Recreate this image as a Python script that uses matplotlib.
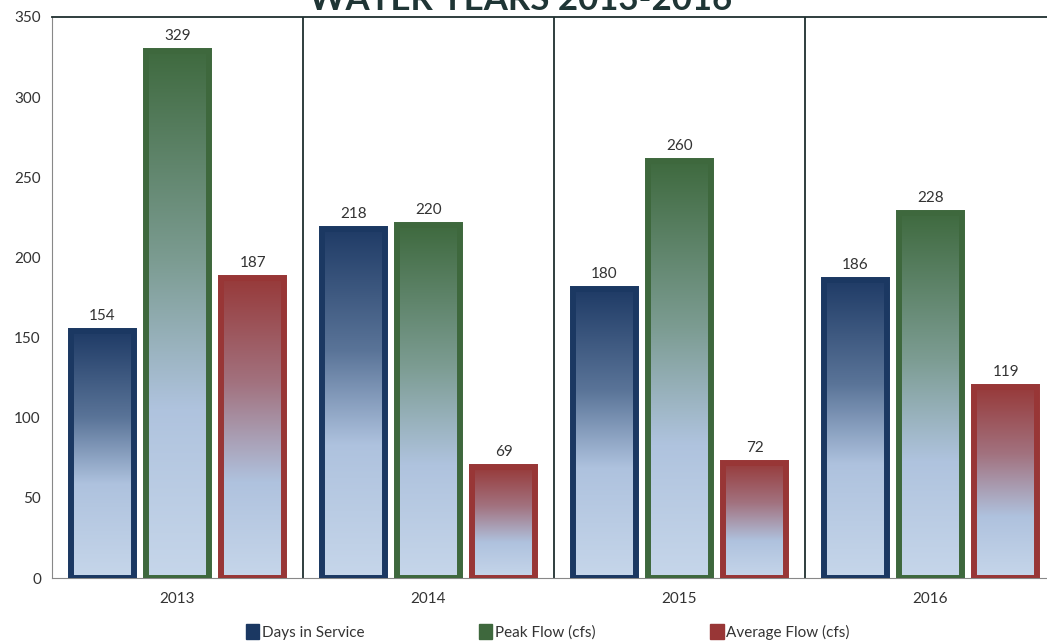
import numpy as np
import matplotlib
matplotlib.use("Agg")
import matplotlib.pyplot as plt
from matplotlib.colors import LinearSegmentedColormap
from matplotlib.patches import Patch

plt.rcParams['font.family'] = ['Lato', 'DejaVu Sans']

years = ["2013", "2014", "2015", "2016"]
series_names = ["Days in Service", "Peak Flow (cfs)", "Average Flow (cfs)"]
days_in_service = [154, 218, 180, 186]
peak_flow = [329, 220, 260, 228]
average_flow = [187, 69, 72, 119]

series_values = [days_in_service, peak_flow, average_flow]
edge_colors = ["#1b3862", "#3e683d", "#983636"]
# gradient stops, bottom (0) -> top (1)
gradients = [
    [(0.0, "#c6d6ea"), (0.38, "#aec2de"), (0.65, "#5a7498"), (1.0, "#1f3b66")],
    [(0.0, "#c6d6ea"), (0.32, "#afc3de"), (0.6, "#7c9c92"), (1.0, "#3f6a3f")],
    [(0.0, "#c6d6ea"), (0.32, "#afc2de"), (0.65, "#a2727f"), (1.0, "#973a3a")],
]

fig = plt.figure(figsize=(10.47, 6.41), dpi=100)
ax = fig.add_axes([52 / 1047, 63 / 641, 1004 / 1047, 561 / 641])

x = np.arange(len(years))
offsets = [-0.30, 0.0, 0.30]
width = 0.25
grad_img = np.linspace(1, 0, 256).reshape(-1, 1)

for vals, off, ec, stops in zip(series_values, offsets, edge_colors, gradients):
    cmap = LinearSegmentedColormap.from_list("grad", stops)
    bars = ax.bar(x + off, vals, width, facecolor="none", edgecolor=ec,
                  linewidth=4.3, zorder=3)
    for b, v in zip(bars, vals):
        x0 = b.get_x()
        im = ax.imshow(grad_img, cmap=cmap, vmin=0, vmax=1, aspect="auto",
                       extent=[x0, x0 + width, 0, v], origin="upper", zorder=2,
                       interpolation="bilinear")
        im.set_clip_path(b)
        ax.text(x0 + width / 2, v + 5, str(v), ha="center", va="bottom",
                fontsize=11, color="#333333", zorder=4)

ax.set_xlim(-0.5, 3.5)
ax.set_ylim(0, 350)
ax.set_yticks(range(0, 351, 50))
ax.set_xticks(x)
ax.set_xticklabels(years)
ax.tick_params(length=0, labelsize=11, colors="#333333")
ax.tick_params(axis="x", pad=10)
ax.tick_params(axis="y", pad=8)

for sep in [0.5, 1.5, 2.5]:
    ax.axvline(sep, color="#1f2f2f", linewidth=1.3, zorder=1)
ax.spines["top"].set_color("#1f2f2f")
ax.spines["top"].set_linewidth(1.3)
ax.spines["left"].set_color("#888888")
ax.spines["bottom"].set_color("#888888")
ax.spines["right"].set_visible(False)

fig.text(0.497, 0.984, "WATER YEARS 2013-2016", ha="center", va="baseline",
         fontsize=25, fontweight="bold", color="#1f3535")

handles = [Patch(facecolor=c, edgecolor=c) for c in edge_colors]
fig.legend(handles, series_names, loc="center", bbox_to_anchor=(0.523, 0.014),
           ncol=3, frameon=False, fontsize=11, handlelength=0.9, handleheight=1.1,
           handletextpad=0.15, columnspacing=7.5, labelcolor="#333333")

fig.savefig("out.png", dpi=100)
